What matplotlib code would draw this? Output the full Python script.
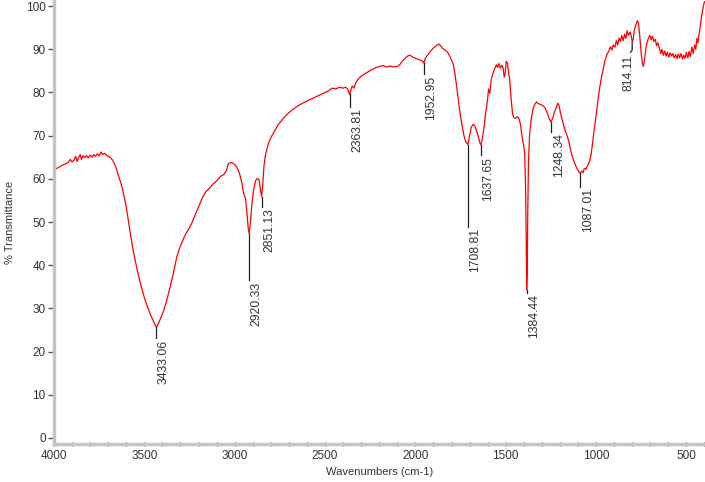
import matplotlib
matplotlib.use('Agg')
import matplotlib.pyplot as plt

# FTIR spectrum
wavenumber = [
    4000, 3980, 3960, 3940, 3920, 3910, 3900, 3890, 3880, 3872, 3865, 3855, 3848, 3840,
    3830, 3820, 3810, 3800, 3790, 3780, 3770, 3760, 3750, 3740, 3730, 3720, 3705, 3690,
    3675, 3660, 3645, 3630, 3620, 3600, 3580, 3560, 3540, 3520, 3500, 3480, 3460, 3445,
    3433, 3420, 3400, 3380, 3360, 3340, 3320, 3300, 3280, 3260, 3240, 3220, 3200, 3180,
    3160, 3140, 3120, 3100, 3080, 3060, 3045, 3035, 3020, 3005, 2990, 2975, 2960, 2950,
    2940, 2932, 2925, 2920, 2914, 2905, 2895, 2885, 2875, 2865, 2858, 2853, 2851, 2845,
    2838, 2830, 2815, 2800, 2780, 2760, 2740, 2720, 2700, 2680, 2650, 2620, 2590, 2560,
    2530, 2500, 2480, 2460, 2440, 2420, 2400, 2385, 2375, 2368, 2364, 2358, 2350, 2340,
    2330, 2318, 2300, 2280, 2260, 2240, 2220, 2200, 2180, 2160, 2140, 2120, 2100, 2085,
    2070, 2055, 2040, 2030, 2015, 2000, 1985, 1970, 1960, 1953, 1945, 1930, 1915, 1900,
    1885, 1870, 1860, 1850, 1835, 1820, 1805, 1790, 1780, 1770, 1760, 1750, 1740, 1730,
    1720, 1709, 1700, 1690, 1680, 1672, 1665, 1658, 1650, 1642, 1638, 1630, 1620, 1610,
    1600, 1595, 1588, 1580, 1570, 1560, 1552, 1545, 1538, 1530, 1522, 1515, 1508, 1503,
    1497, 1490, 1484, 1478, 1470, 1462, 1455, 1445, 1435, 1425, 1418, 1410, 1402, 1395,
    1390, 1386, 1384, 1381, 1378, 1374, 1368, 1360, 1350, 1340, 1330, 1320, 1305, 1290,
    1280, 1270, 1260, 1250, 1240, 1230, 1220, 1212, 1205, 1198, 1190, 1180, 1170, 1160,
    1150, 1140, 1130, 1120, 1110, 1100, 1093, 1087, 1080, 1072, 1065, 1055, 1045, 1035,
    1028, 1020, 1010, 1000, 990, 980, 970, 960, 950, 940, 930, 920, 912, 905,
    895, 888, 880, 872, 865, 858, 850, 842, 835, 828, 820, 812, 805, 800,
    795, 788, 780, 772, 766, 760, 752, 745, 738, 732, 725, 718, 710, 702,
    695, 688, 680, 672, 665, 658, 650, 642, 635, 628, 620, 612, 605, 598,
    590, 582, 575, 568, 560, 552, 545, 538, 530, 522, 515, 508, 500, 492,
    485, 478, 470, 462, 455, 448, 442, 436, 430, 424, 418, 412, 406, 400,
]
transmittance = [
    62.0, 62.5, 63.0, 63.4, 63.8, 64.5, 63.9, 64.3, 65.2, 64.0, 64.8, 65.6, 64.5, 65.3,
    64.9, 65.4, 64.8, 65.5, 65.0, 65.6, 65.2, 65.8, 65.3, 66.2, 65.6, 65.9, 65.3, 65.0,
    64.3, 63.0, 61.0, 59.0, 57.5, 53.5, 48.0, 43.0, 39.0, 35.5, 32.5, 30.0, 28.0, 26.6,
    25.6, 26.7, 28.7, 31.2, 34.5, 38.0, 42.0, 44.5, 46.5, 48.0, 49.5, 51.5, 53.5, 55.5,
    57.0, 57.8, 58.8, 59.5, 60.5, 61.0, 62.0, 63.5, 63.8, 63.5, 62.8, 61.5, 59.0, 56.5,
    55.5, 52.0, 48.5, 47.3, 49.5, 54.0, 57.5, 59.5, 60.1, 59.8, 57.5, 56.3, 55.9, 58.5,
    63.0, 65.5, 68.0, 69.5, 71.0, 72.5, 73.5, 74.5, 75.3, 76.0, 76.9, 77.6, 78.2, 78.8,
    79.4, 80.0, 80.4, 81.0, 80.8, 81.2, 81.0, 81.2, 80.8, 80.0, 79.5, 80.4, 81.5, 81.0,
    82.2, 83.0, 83.8, 84.3, 84.8, 85.3, 85.7, 86.0, 86.2, 85.9, 86.1, 85.9, 86.0, 86.5,
    87.3, 88.0, 88.5, 88.6, 88.2, 87.9, 87.7, 87.4, 87.2, 86.8, 87.9, 88.8, 89.6, 90.3,
    90.8, 91.2, 90.8, 90.2, 89.8, 89.2, 88.0, 86.5, 84.0, 81.0, 77.5, 74.5, 72.0, 69.8,
    68.5, 67.9, 70.0, 72.0, 72.6, 72.3, 71.5, 70.8, 69.5, 68.2, 67.9, 69.0, 72.0, 75.5,
    78.5, 80.8, 79.8, 83.0, 84.5, 85.6, 86.4, 85.8, 86.7, 85.6, 86.3, 85.8, 83.5, 84.5,
    87.2, 86.8, 84.5, 83.0, 78.5, 75.0, 74.2, 74.0, 74.4, 73.8, 72.5, 70.0, 68.0, 66.0,
    58.0, 44.0, 34.3, 38.0, 52.0, 64.0, 70.0, 73.5, 76.0, 77.2, 77.8, 77.4, 77.2, 76.8,
    76.3, 75.3, 74.0, 73.2, 74.0, 75.5, 76.5, 77.5, 77.0, 75.5, 74.0, 72.5, 71.0, 70.0,
    68.5, 66.5, 65.0, 63.8, 62.8, 62.0, 61.4, 61.3, 61.8, 61.4, 62.4, 62.3, 63.2, 64.2,
    65.5, 68.0, 71.5, 74.5, 78.0, 81.0, 83.5, 85.5, 87.5, 88.8, 89.5, 90.6, 89.8, 91.0,
    90.5, 92.0, 91.0, 92.6, 91.8, 93.2, 92.0, 93.5, 92.5, 94.3, 93.2, 94.0, 93.0, 91.6,
    92.2, 94.5, 95.5, 96.6, 96.2, 94.0, 90.0, 87.0, 86.0, 87.5, 90.0, 91.5, 92.6, 93.2,
    92.2, 93.0, 91.8, 92.3, 90.8, 91.5, 90.2, 89.0, 90.0, 88.6, 89.6, 88.4, 89.3, 88.2,
    89.2, 88.5, 89.0, 88.0, 88.8, 87.8, 88.9, 88.0, 89.0, 87.7, 88.6, 87.9, 89.3, 88.0,
    89.5, 88.3, 90.5, 89.0, 91.0, 90.0, 92.5, 91.5, 93.5, 95.0, 97.0, 98.5, 100.0, 101.0,
]

# peak labels: value, curve end of the tick, label end of the tick
peak_labels = ['3433.06', '2920.33', '2851.13', '2363.81', '1952.95', '1708.81',
               '1637.65', '1384.44', '1248.34', '1087.01']
peak_top = [25.7, 47.2, 55.8, 79.6, 86.8, 67.8, 67.8, 34.3, 73.2, 61.3]
peak_bottom = [23.1, 36.6, 53.5, 76.7, 84.3, 48.9, 65.5, 33.6, 70.9, 58.2]

plt.rcParams['font.family'] = ['Liberation Sans', 'DejaVu Sans']

text_color = '#333333'
spine_color = '#c4c4c4'

fig = plt.figure(figsize=(7.05, 4.82), dpi=100)
ax = fig.add_axes([54 / 705, 38 / 482, 651 / 705, 444 / 482])

ax.plot(wavenumber, transmittance, color='#ff0000', linewidth=0.9)

for lab, top, bot in zip(peak_labels, peak_top, peak_bottom):
    x = float(lab)
    ax.plot([x, x], [top, bot], color='#202020', linewidth=0.9)
    ax.text(x - 42, bot - 0.4, lab, rotation=90, ha='center', va='top',
            fontsize=8.8, color=text_color)

# 814.11 has a bent tick
ax.plot([800, 800, 809], [91.4, 89.8, 89.3], color='#202020', linewidth=0.9)
ax.text(822, 88.7, '814.11', rotation=90, ha='center', va='top',
        fontsize=8.8, color=text_color)

ax.set_xlim(4000, 397)
ax.set_ylim(-1.4, 101.4)
ax.set_xticks(range(4000, 499, -500))
ax.set_xticks(range(4000, 399, -100), minor=True)
ax.set_yticks(range(0, 101, 10))

for s in ['top', 'right']:
    ax.spines[s].set_visible(False)
for s in ['left', 'bottom']:
    ax.spines[s].set_color(spine_color)
    ax.spines[s].set_linewidth(2.5)

ax.tick_params(axis='y', direction='out', length=4, width=1, color='#555555',
               labelsize=8.5, labelcolor=text_color, pad=2)
ax.tick_params(axis='x', which='both', direction='inout', length=3, width=1,
               color='#555555', labelsize=8.5, labelcolor=text_color, pad=3)

ax.set_xlabel('Wavenumbers (cm-1)', fontsize=8, color=text_color)
ax.set_ylabel('% Transmittance', fontsize=8, color=text_color)
ax.xaxis.set_label_coords(0.5, (482 - 472 - 38) / 444)
ax.yaxis.set_label_coords((10 - 54) / 651, 0.5)
ax.xaxis.label.set_va('center')
ax.yaxis.label.set_va('center')

plt.savefig('out.png', dpi=100)
